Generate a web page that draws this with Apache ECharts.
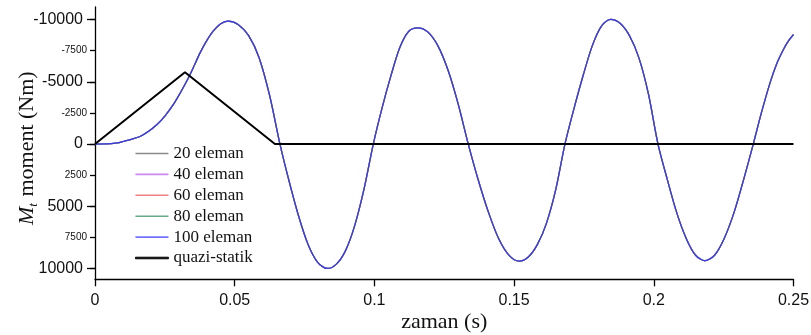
<!DOCTYPE html>
<html>
<head>
<meta charset="utf-8">
<script src="https://cdn.jsdelivr.net/npm/echarts@6/dist/echarts.min.js"></script>
<style>
html,body{margin:0;padding:0;background:#fff;}
#chart{width:811px;height:335px;}
</style>
</head>
<body>
<div id="chart"></div>
<script>
// ---- data ----
const simTimes = [
  0, 0.004, 0.008, 0.0101, 0.013, 0.0161, 0.019, 0.0221, 0.025, 0.028, 0.0305, 0.0328, 0.035, 0.0376, 0.040, 0.0423, 0.045, 0.0475,
  0.0512, 0.055, 0.0587, 0.0625, 0.0662,
  0.0696, 0.0730, 0.0763, 0.0797, 0.0831,
  0.0864, 0.0897, 0.0930, 0.0963, 0.0996,
  0.1028, 0.1060, 0.1091, 0.1123, 0.1155,
  0.1191, 0.1227, 0.1264, 0.1300, 0.1336,
  0.1372, 0.1409, 0.1445, 0.1482, 0.1518,
  0.1551, 0.1584, 0.1616, 0.1649, 0.1682,
  0.1715, 0.1747, 0.1780, 0.1812, 0.1845,
  0.1879, 0.1913, 0.1947, 0.1981, 0.2015,
  0.2049, 0.2082, 0.2116, 0.2149, 0.2183,
  0.2218, 0.2252, 0.2287, 0.2321, 0.2356,
  0.2385, 0.2416, 0.2440, 0.2464, 0.2482, 0.25
];
const simValues = [
  0, -10, -100, -210, -380, -610, -1000, -1550, -2250, -3160, -4100, -5040, -6050, -7320, -8300, -9060, -9650, -9860,
  -9600, -8700, -6950, -3900, 0,
  3085, 5870, 8075, 9490, 9980,
  9630, 8530, 6500, 3600, 0,
  -2950, -5550, -7750, -9050, -9330,
  -9000, -7900, -5900, -3200, 0,
  2900, 5520, 7600, 8930, 9390,
  9060, 8030, 6340, 3660, 0,
  -2900, -5500, -7900, -9450, -10000,
  -9700, -8700, -6900, -4000, 0,
  2890, 5500, 7570, 8900, 9360,
  8900, 7570, 5500, 2890, 0,
  -2500, -4910, -6450, -7590, -8280, -8790
];
const quasiTimes = [0, 0.0322, 0.0644, 0.25];
const quasiValues = [0, -5760, 0, 0];
const seriesNames = ['20 eleman', '40 eleman', '60 eleman', '80 eleman', '100 eleman', 'quazi-statik'];
const yTickValues = [-10000, -7500, -5000, -2500, 0, 2500, 5000, 7500, 10000];
const yMajorValues = [-10000, -5000, 0, 5000, 10000];
const xTickLabels = ['0', '0.05', '0.1', '0.15', '0.2', '0.25'];

// ---- styles ----
const plotColors = ['#888888', '#c583e8', '#ee7b7b', '#5fa585', '#3a3ae2', '#000000'];
const legendColors = ['#8a8a8a', '#cc88ee', '#f28080', '#66aa88', '#7272ff', '#000000'];
const widths = [1.2, 1.2, 1.2, 1.2, 1.3, 2];

const zip = (a, b) => a.map((t, i) => [t, b[i]]);

const series = seriesNames.map((name, i) => {
  const isQuasi = i === 5;
  return {
    name: name,
    type: 'line',
    yAxisIndex: 0,
    data: isQuasi ? zip(quasiTimes, quasiValues) : zip(simTimes, simValues),
    symbol: 'none',
    smooth: isQuasi ? false : 0.3,
    lineStyle: { color: plotColors[i], width: widths[i] },
    itemStyle: { color: legendColors[i] },
    z: 2 + i,
    animation: false
  };
});

const chart = echarts.init(document.getElementById('chart'), null, { renderer: 'canvas' });
chart.setOption({
  animation: false,
  backgroundColor: '#ffffff',
  grid: { left: 95, right: 17.5, top: 7, bottom: 55.7, containLabel: false, outerBoundsMode: 'none' },
  legend: {
    show: true,
    orient: 'vertical',
    left: 135,
    top: 145,
    padding: 0,
    icon: 'rect',
    itemWidth: 33,
    itemHeight: 1.6,
    itemGap: 3.9,
    textStyle: { fontFamily: 'Liberation Serif', fontSize: 17, color: '#111' },
    data: seriesNames.map((n, i) => ({
      name: n,
      icon: 'rect',
      itemStyle: i === 5
        ? { color: '#000', borderColor: '#000', borderWidth: 0.9 }
        : { color: legendColors[i], borderWidth: 0 }
    }))
  },
  xAxis: {
    type: 'value',
    min: 0,
    max: 0.25,
    interval: 0.05,
    name: 'zaman (s)',
    nameLocation: 'middle',
    nameGap: 32,
    nameMoveOverlap: false,
    nameTextStyle: { fontFamily: 'Liberation Serif', fontSize: 22, color: '#111' },
    axisLine: { show: true, onZero: false, lineStyle: { color: '#000', width: 1.3 } },
    axisTick: { show: true, inside: false, length: 7, lineStyle: { color: '#000', width: 1.3 } },
    axisLabel: {
      margin: 13,
      fontFamily: 'Liberation Sans',
      fontSize: 16,
      color: '#111',
      formatter: (v) => {
        const idx = Math.round(v / 0.05);
        return xTickLabels[idx] !== undefined ? xTickLabels[idx] : '';
      }
    },
    splitLine: { show: false }
  },
  yAxis: [
    {
      type: 'value',
      inverse: true,
      min: -11000,
      max: 10850,
      position: 'left',
      name: '{it|M}{sub|t}{n| moment (Nm)}',
      nameLocation: 'middle',
      nameGap: 55,
      nameMoveOverlap: false,
      nameRotate: 90,
      nameTextStyle: {
        color: '#111',
        padding: [0, 10, 0, 0],
        rich: {
          it: { fontFamily: 'Liberation Serif', fontStyle: 'italic', fontSize: 22, color: '#111' },
          sub: { fontFamily: 'Liberation Serif', fontStyle: 'italic', fontSize: 13, color: '#111', padding: [12, 1, 0, 0] },
          n: { fontFamily: 'Liberation Serif', fontSize: 22, color: '#111' }
        }
      },
      axisLine: { show: true, onZero: false, lineStyle: { color: '#000', width: 1.3 } },
      axisTick: { show: true, inside: false, length: 5, customValues: yTickValues, lineStyle: { color: '#000', width: 1.3 } },
      axisLabel: {
        show: true,
        margin: 8,
        customValues: yTickValues,
        formatter: (v) => {
          const s = String(v);
          return yMajorValues.indexOf(v) >= 0 ? '{big|' + s + '}' : '{small|' + s + '}';
        },
        rich: {
          big: { fontFamily: 'Liberation Sans', fontSize: 16, color: '#111', padding: [0, 4, 0, 0] },
          small: { fontFamily: 'Liberation Sans', fontSize: 10, color: '#111' }
        }
      },
      splitLine: { show: false }
    },
    {
      type: 'value',
      inverse: true,
      min: -11000,
      max: 10850,
      position: 'left',
      axisLine: { show: false },
      axisTick: { show: true, inside: false, length: 8, customValues: yMajorValues, lineStyle: { color: '#000', width: 1.3 } },
      axisLabel: { show: false },
      splitLine: { show: false }
    }
  ],
  series: series
});
</script>
</body>
</html>
